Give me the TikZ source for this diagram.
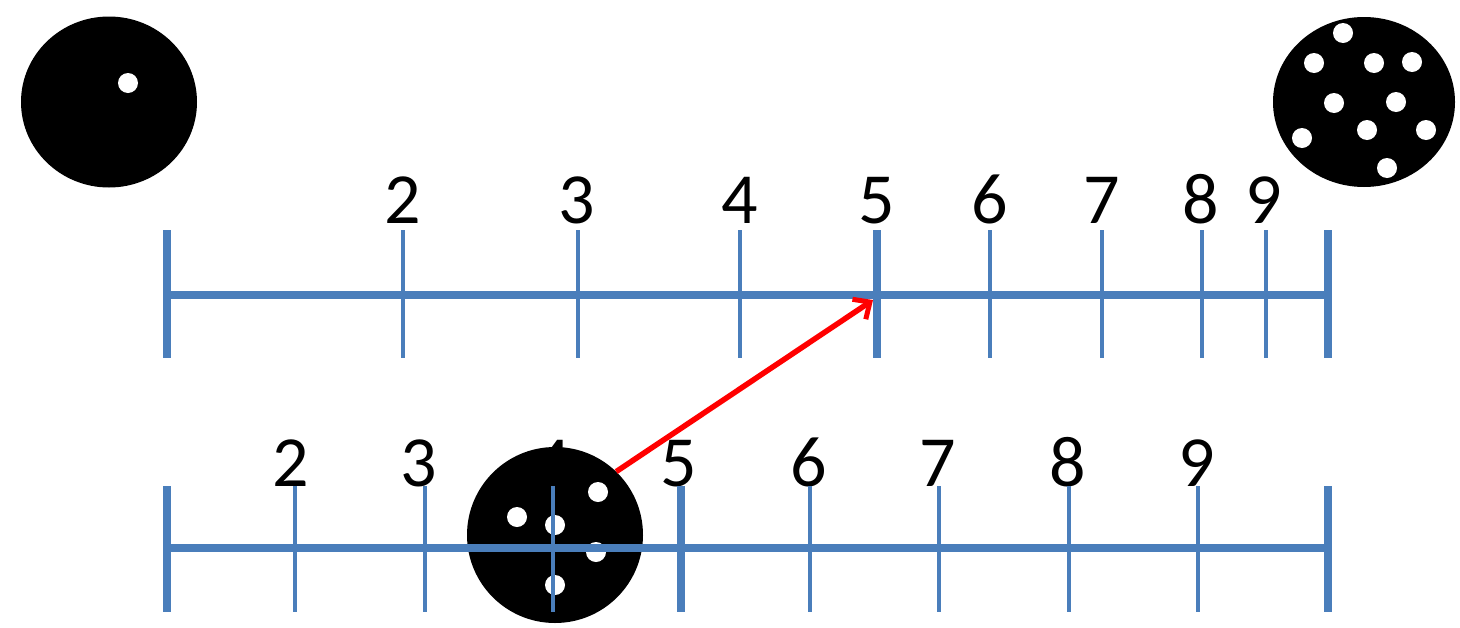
\documentclass[tikz,border=0pt]{standalone}
\usepackage{fontspec}
\setmainfont{Carlito}
\usetikzlibrary{arrows.meta,shapes.geometric}
\definecolor{scaleblue}{HTML}{4A7EBB}
\begin{document}
\begin{tikzpicture}[x=1pt,y=-1pt,
  thick tick/.style={draw=scaleblue,line width=8pt},
  thin tick/.style={draw=scaleblue,line width=4.5pt},
  axis/.style={draw=scaleblue,line width=8pt},
  lab/.style={font=\fontsize{72}{72}\selectfont,anchor=base,inner sep=0pt},
  disc/.style={fill=black,inner sep=0pt},
  hole/.style={circle,fill=white,inner sep=0pt,minimum size=20pt}]
\useasboundingbox (0,0) rectangle (1460,627);
% top labels
\foreach \n/\x in {2/403,3/577,4/740,5/877,6/990,7/1102,8/1201,9/1264}
  \node[lab] (t\n) at (\x,223) {\n};
% bottom labels
\foreach \n/\x in {2/291,3/419,4/553,5/679,6/809,7/938,8/1068,9/1197}
  \node[lab] (b\n) at (\x,486) {\n};
% top-left disc
\node[disc,ellipse,minimum width=176pt,minimum height=171pt] (dA) at (109,102) {};
\node[hole] (hA) at (128,83) {};
% top-right disc
\node[disc,ellipse,minimum width=182pt,minimum height=170pt] (dB) at (1364,102) {};
\foreach \i/\p in {1/{1343,33},2/{1314,63},3/{1374,63},4/{1412,62},5/{1334,103},6/{1396,102},7/{1367,130},8/{1302,138},9/{1426,130},10/{1387,168}}
  \node[hole] (hB\i) at (\p) {};
% bottom disc
\node[disc,circle,minimum size=176pt] (dC) at (555,535) {};
\foreach \i/\p in {1/{517,517},2/{555,525},3/{598,492},4/{596,552},5/{555,585}}
  \node[hole] (hC\i) at (\p) {};
% top scale
\coordinate (ta) at (167,295);
\coordinate (tb) at (1328,295);
\draw[axis] (ta) -- (tb);
\foreach \x in {167,877,1328}
  \draw[thick tick] (\x,230) -- (\x,358);
\foreach \x in {403,578,740,990,1102,1202,1266}
  \draw[thin tick] (\x,230) -- (\x,358);
% bottom scale
\coordinate (ba) at (167,548);
\coordinate (bb) at (1328,548);
\draw[axis] (ba) -- (bb);
\foreach \x in {167,681,1328}
  \draw[thick tick] (\x,486) -- (\x,612);
\foreach \x in {295,425,553,810,939,1069,1198}
  \draw[thin tick] (\x,486) -- (\x,612);
% red arrow
\coordinate (aend) at (873,300);
\draw[red,line width=5.5pt,-{Straight Barb[length=13pt,width=24pt,line width=5pt]}] (dC.46) -- (aend);
\end{tikzpicture}
\end{document}
